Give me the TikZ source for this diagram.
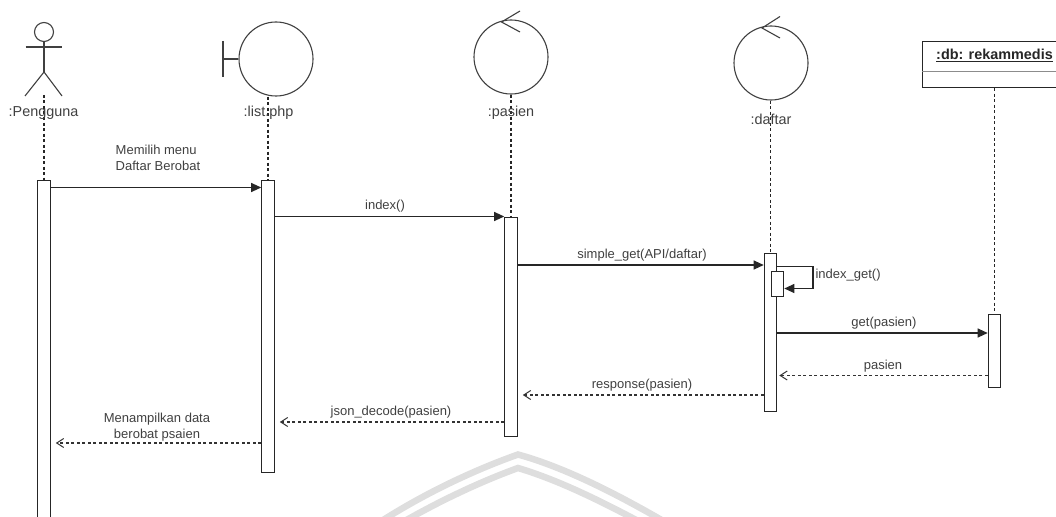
\documentclass[tikz,border=0pt]{standalone}
\usepackage{fontspec}
\setmainfont{Liberation Sans}
\usepackage{tikz}
\usetikzlibrary{arrows.meta, positioning, calc}

\begin{document}
\begin{tikzpicture}[
        x=1pt, y=-1pt,
        line width=1.1pt,
        every node/.style={text=black!75},
        lifeline/.style={dashed, dash pattern=on 3pt off 2.5pt, black!85},
        bar/.style={draw=black!85, fill=white, minimum width=12.5pt, inner sep=0pt},
        msg/.style={-{Triangle[length=10pt, width=9pt]}, black!85},
        reply/.style={dashed, dash pattern=on 3pt off 2.5pt, -{Straight Barb[length=7pt, width=9pt, line width=1pt]}, black!80, shorten >=5pt},
        label/.style={font=\fontsize{13}{16}\selectfont, align=center, inner sep=0pt},
        title/.style={font=\fontsize{14.4}{17}\selectfont, inner sep=0pt},
        element/.style={draw=black!75, circle, minimum size=74pt, inner sep=0pt},
        crest/.style={draw=black!13, line width=6.5pt}
    ]
        \path[use as bounding box, clip] (0, 0) rectangle (1056, 516);

        % Watermark
        \draw[crest] (380, 522) .. controls (430, 490) and (480, 468) .. (518, 454.5) .. controls (560, 466) and (610, 490) .. (665, 522);
        \draw[crest] (403, 522) .. controls (445, 498) and (485, 480) .. (518, 468) .. controls (555, 479) and (595, 498) .. (640, 522);

        % Actor
        \node[draw=black!75, circle, minimum size=19pt, inner sep=0pt] (head) at (44, 32) {};
        \coordinate (hip) at (44, 72);
        \coordinate (armL) at (25.5, 47);
        \coordinate (armR) at (62, 47);
        \coordinate (footL) at (25, 96);
        \coordinate (footR) at (62, 96);
        \draw[black!75] (head) -- (hip);
        \draw[black!75] (armL) -- (armR);
        \draw[black!75] (footL) -- (hip) -- (footR);

        % Boundary
        \node[element] (listElem) at (276, 59) {};
        \coordinate (listBack) at (223, 59);
        \coordinate (listTop) at (223, 41);
        \coordinate (listBottom) at (223, 77);
        \draw[black!75] (listTop) -- (listBottom);
        \draw[black!75] (listBack) -- (listElem.west);

        % Controls
        \node[element] (pasienElem) at (511, 57) {};
        \node[element] (daftarElem) at (771, 63) {};
        \coordinate (pasienTip) at (501.5, 22);
        \coordinate (daftarTip) at (762, 28);
        \draw[black!75] (520, 11) -- (pasienTip) -- (520, 32);
        \draw[black!75] (780, 16.5) -- (daftarTip) -- (780, 38);

        % Database box
        \node[draw=black!85, fill=white, anchor=north west, minimum width=144pt, minimum height=46pt, inner sep=0pt] (dbBox) at (922, 41) {};
        \node[title, text=black!85, font=\fontsize{14.4}{17}\selectfont\bfseries] (dbName) at (994.5, 55.5) {\underline{:db: rekammedis}};
        \coordinate (dbLine) at (922, 71);
        \draw[black!45, line width=0.7pt] (dbLine) -- (dbLine -| dbBox.east);

        % Activation bars
        \node[bar, anchor=north, minimum height=345pt] (barUser) at (44, 180) {};
        \node[bar, anchor=north, minimum height=291.5pt] (barList) at (268, 180) {};
        \node[bar, anchor=north, minimum height=219pt] (barPasien) at (511, 216.5) {};
        \node[bar, anchor=north, minimum height=158.5pt] (barDaftar) at (770.5, 252.5) {};
        \node[bar, anchor=north, minimum height=25pt] (barSelf) at (777.5, 271) {};
        \node[bar, anchor=north, minimum height=73pt] (barDb) at (994.5, 313.5) {};

        % Lifelines
        \draw[lifeline] (footL -| barUser) ++(0, -1) -- (barUser.north);
        \draw[lifeline] (listElem.south -| barList) -- (barList.north);
        \draw[lifeline] (pasienElem.south) -- (barPasien.north);
        \draw[lifeline] (daftarElem.south -| barDaftar) -- (barDaftar.north);
        \draw[lifeline] (dbBox.south -| barDb) -- (barDb.north);

        % Names
        \node[title] (userName) at (43.5, 113) {:Pengguna};
        \node[title] (listName) at (268.5, 113) {:list.php};
        \node[title] (pasienName) at (511, 113) {:pasien};
        \node[title] (daftarName) at (771, 119) {:daftar};

        % Message levels
        \coordinate (m1) at (0, 187.5);
        \coordinate (m2) at (0, 216.5);
        \coordinate (m3) at (0, 265);
        \coordinate (m4) at (0, 333);
        \coordinate (m5) at (0, 375.5);
        \coordinate (m6) at (0, 395);
        \coordinate (m7) at (0, 422);
        \coordinate (m8) at (0, 443);

        % Messages
        \draw[msg] (barUser.east |- m1) -- (barList.west |- m1);
        \node[label, align=left] (m1Text) at (158, 158) {Memilih menu\\Daftar Berobat};
        \draw[msg] (barList.east |- m2) -- (barPasien.west |- m2);
        \node[label] (m2Text) at (385, 206) {index()};
        \draw[msg] (barPasien.east |- m3) -- (barDaftar.west |- m3);
        \node[label] (m3Text) at (642, 255) {simple\_get(API/daftar)};

        % Self call
        \coordinate (selfOut) at (813, 266.5);
        \coordinate (selfBack) at (813, 288.5);
        \draw[msg] (barDaftar.east |- selfOut) -- (selfOut) -- (selfBack) -- (barSelf.east |- selfBack);
        \node[label, anchor=west] (selfText) at (815, 275) {index\_get()};

        \draw[msg] (barDaftar.east |- m4) -- (barDb.west |- m4);
        \node[label] (m4Text) at (884, 323.5) {get(pasien)};

        % Replies
        \draw[reply, shorten >=2pt] (barDb.west |- m5) -- (barDaftar.east |- m5);
        \node[label] (m5Text) at (883, 366) {pasien};
        \draw[reply] (barDaftar.west |- m6) -- (barPasien.east |- m6);
        \node[label] (m6Text) at (642, 385) {response(pasien)};
        \draw[reply] (barPasien.west |- m7) -- (barList.east |- m7);
        \node[label] (m7Text) at (391, 412) {json\_decode(pasien)};
        \draw[reply] (barList.west |- m8) -- (barUser.east |- m8);
        \node[label] (m8Text) at (157, 427) {Menampilkan data\\berobat psaien};

    \end{tikzpicture}
\end{document}
